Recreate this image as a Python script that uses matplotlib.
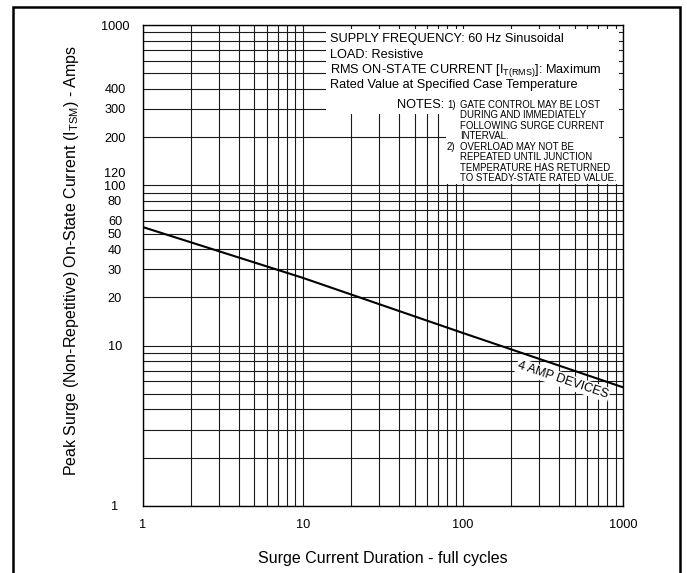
import numpy as np
import matplotlib
matplotlib.use('Agg')
import matplotlib.pyplot as plt
from matplotlib.patches import Rectangle
from matplotlib.ticker import FixedLocator, FixedFormatter, LogLocator, NullFormatter

plt.rcParams['font.family'] = ['Liberation Sans', 'DejaVu Sans']
plt.rcParams['mathtext.fontset'] = 'custom'
plt.rcParams['mathtext.rm'] = 'Liberation Sans'

# data
cycles = [1, 10, 100, 1000]
surge_amps = [55, 26.5, 12, 5.5]
curve_label = '4 AMP DEVICES'

x_ticks = [1, 10, 100, 1000]
y_ticks = [1, 10, 20, 30, 40, 50, 60, 80, 100, 120, 200, 300, 400, 1000]

conditions = ['SUPPLY FREQUENCY: 60 Hz Sinusoidal',
              'LOAD: Resistive',
              r'RMS ON-STATE CURRENT [I$_\mathrm{T(RMS)}$]: Maximum',
              'Rated Value at Specified Case Temperature']
notes = ['GATE CONTROL MAY BE LOST',
         'DURING AND IMMEDIATELY',
         'FOLLOWING SURGE CURRENT',
         'INTERVAL.',
         'OVERLOAD MAY NOT BE',
         'REPEATED UNTIL JUNCTION',
         'TEMPERATURE HAS RETURNED',
         'TO STEADY-STATE RATED VALUE.']
note_numbers = {0: '1)', 4: '2)'}

W, H = 687, 573
fig = plt.figure(figsize=(W / 100, H / 100), dpi=100)


def px(x, y):
    # pixel position -> figure fraction
    return x / W, 1 - y / H


# outer frame around the whole figure
fig.patches.append(Rectangle((13 / W, -0.01), (680 - 13) / W, 1.01 - 7 / H,
                             transform=fig.transFigure, fill=False,
                             ec='black', lw=1.8))

ax = fig.add_axes([142.5 / W, 1 - 506 / H, 480.5 / W, 481 / H])
ax.set_xscale('log')
ax.set_yscale('log')
ax.set_xlim(1, 1000)
ax.set_ylim(1, 1000)

ax.plot(cycles, surge_amps, color='black', lw=1.5, zorder=4)

# ticks / grid
ax.xaxis.set_major_locator(FixedLocator(x_ticks))
ax.xaxis.set_major_formatter(FixedFormatter([str(v) for v in x_ticks]))
ax.yaxis.set_major_locator(FixedLocator(y_ticks))
ax.yaxis.set_major_formatter(FixedFormatter([str(v) for v in y_ticks]))
for axis in (ax.xaxis, ax.yaxis):
    axis.set_minor_locator(LogLocator(base=10, subs=np.arange(1, 10), numticks=20))
    axis.set_minor_formatter(NullFormatter())
    axis.remove_overlapping_locs = False
ax.grid(False, which='major')
ax.grid(True, which='minor', color='#1a1a1a', lw=0.8)
ax.set_axisbelow(True)
ax.tick_params(which='both', length=0)
ax.tick_params(axis='x', labelsize=9.2, pad=9.5)
ax.tick_params(axis='y', labelsize=9.2, pad=19.8)
for lab in ax.get_yticklabels():
    lab.set_horizontalalignment('center')
for sp in ax.spines.values():
    sp.set_linewidth(1.0)
    sp.set_zorder(6)

# white panels holding the test conditions and notes
ax.add_patch(Rectangle((0.382, 0.815), 0.992 - 0.382, 0.992 - 0.815,
                       transform=ax.transAxes, fc='white', ec='none', zorder=2))
ax.add_patch(Rectangle((0.632, 0.670), 0.992 - 0.632, 0.815 - 0.670,
                       transform=ax.transAxes, fc='white', ec='none', zorder=2))

for i, line in enumerate(conditions):
    ax.text(*px(330, 42.2 + i * 15.4), line, transform=fig.transFigure,
            fontsize=9.2, va='baseline', ha='left', zorder=5)
ax.text(*px(444, 107.5), 'NOTES:', transform=fig.transFigure,
        fontsize=9.2, va='baseline', ha='right', zorder=5)
for i, line in enumerate(notes):
    y = 107.6 + i * 10.5
    if i in note_numbers:
        ax.text(*px(447, y), note_numbers[i], transform=fig.transFigure,
                fontsize=6.9, va='baseline', ha='left', zorder=5)
    ax.text(*px(460, y), line, transform=fig.transFigure,
            fontsize=6.9, va='baseline', ha='left', zorder=5)

ax.text(422, 6.1, curve_label, fontsize=9, rotation=-18.4,
        rotation_mode='anchor', ha='center', va='center', zorder=3,
        bbox=dict(fc='white', ec='none', pad=1.0))

fig.text(*px(72, 260), r'Peak Surge (Non-Repetitive) On-State Current (I$_\mathrm{TSM}$) - Amps',
         rotation=90, ha='center', va='center', fontsize=11.5)
fig.text(*px(383, 558), 'Surge Current Duration - full cycles',
         ha='center', va='center', fontsize=11.5)

fig.savefig('out.png', dpi=100)
